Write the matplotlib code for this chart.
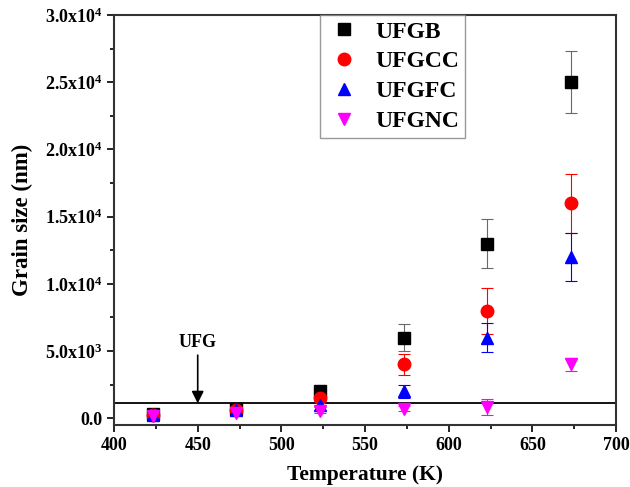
import matplotlib
matplotlib.use("Agg")
import matplotlib.pyplot as plt
from matplotlib.ticker import MultipleLocator, FuncFormatter

plt.rcParams['font.family'] = ['Liberation Serif', 'DejaVu Serif']
plt.rcParams['font.weight'] = 'bold'
plt.rcParams['mathtext.fontset'] = 'custom'
plt.rcParams['mathtext.rm'] = 'Liberation Serif:bold'
plt.rcParams['mathtext.bf'] = 'Liberation Serif:bold'

# Data
temps = [423, 473, 523, 573, 623, 673]
ufgb = [300, 700, 2000, 6000, 13000, 25000]
ufgb_err = [150, 150, 300, 1000, 1800, 2300]
ufgcc = [250, 600, 1500, 4000, 8000, 16000]
ufgcc_err = [100, 150, 250, 800, 1700, 2200]
ufgfc = [250, 600, 1000, 2000, 6000, 12000]
ufgfc_err = [100, 100, 200, 500, 1100, 1800]
ufgnc = [150, 400, 500, 700, 850, 4000]
ufgnc_err = [50, 100, 100, 200, 600, 500]
ufg_limit = 1100

fig, ax = plt.subplots(figsize=(6.3, 4.87), dpi=100)
fig.subplots_adjust(left=0.181, right=0.978, top=0.969, bottom=0.127)

series = [
    (ufgb, ufgb_err, 's', 'black', 'dimgray', 'UFGB', 8),
    (ufgcc, ufgcc_err, 'o', 'red', 'red', 'UFGCC', 9),
    (ufgfc, ufgfc_err, '^', 'blue', 'blue', 'UFGFC', 9),
    (ufgnc, ufgnc_err, 'v', 'magenta', 'magenta', 'UFGNC', 9),
]
handles = []
labels = []
for vals, errs, mk, col, ecol, lab, ms in series:
    c = ax.errorbar(temps, vals, yerr=errs, fmt=mk, color=col, ecolor=ecol,
                    elinewidth=0.8, capsize=4, capthick=0.8, markersize=ms)
    handles.append(c[0])
    labels.append(lab)

ax.axhline(ufg_limit, color='black', linewidth=1.3)
ax.annotate('UFG', xy=(450, ufg_limit), xytext=(450, 5000),
            ha='center', va='bottom', fontsize=13, fontweight='bold',
            arrowprops=dict(arrowstyle='-|>', color='black', lw=1.2,
                            mutation_scale=18, shrinkA=1, shrinkB=0))

ax.set_xlim(400, 700)
ax.set_ylim(-520, 30000)
ax.xaxis.set_major_locator(MultipleLocator(50))
ax.xaxis.set_minor_locator(MultipleLocator(25))
ax.yaxis.set_major_locator(MultipleLocator(5000))
ax.yaxis.set_minor_locator(MultipleLocator(2500))


def yfmt(v, pos):
    if v == 0:
        return '0.0'
    exp = 0
    m = v
    while abs(m) >= 10:
        m /= 10
        exp += 1
    return r'$\mathbf{%.1fx10^{%d}}$' % (m, exp)


ax.yaxis.set_major_formatter(FuncFormatter(yfmt))
ax.tick_params(which='both', direction='out', top=False, right=False,
               width=1.2, labelsize=13)
ax.tick_params(which='major', length=5)
ax.tick_params(which='minor', length=3)
for s in ax.spines.values():
    s.set_linewidth(1.5)
    s.set_color('#333333')

ax.set_xlabel('Temperature (K)', fontsize=15.5, fontweight='bold', labelpad=8)
ax.set_ylabel('Grain size (nm)', fontsize=16.5, fontweight='bold', labelpad=8)

leg = ax.legend(handles, labels, loc='upper left', bbox_to_anchor=(0.41, 1.0),
                borderaxespad=0, fancybox=False, edgecolor='gray',
                prop={'size': 17, 'weight': 'bold'}, handletextpad=0.6,
                labelspacing=0.35, handlelength=1.5, borderpad=0.25)
leg.get_frame().set_linewidth(1.0)

fig.savefig('out.png', dpi=100)
